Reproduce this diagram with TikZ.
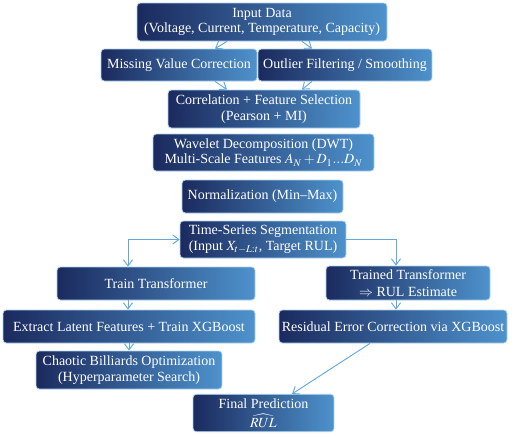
\documentclass[tikz,border=0pt]{standalone}
\usepackage{mathptmx}
\usepackage{fontspec}
\setmainfont{Liberation Serif}
\usepackage{tikz}
\usetikzlibrary{shapes,arrows.meta,positioning,calc}

\definecolor{boxdark}{HTML}{1B2A5E}
\definecolor{boxlight}{HTML}{4E92CC}
\definecolor{boxedge}{HTML}{A9D2EE}
\definecolor{linkblue}{HTML}{62AADA}

\begin{document}
\begin{tikzpicture}[
        x=0.75pt, y=-0.75pt,
        stage/.style={rectangle, rounded corners=2.5pt, draw=boxedge, line width=0.6pt,
            left color=boxdark, right color=boxlight, text=white, align=center,
            inner sep=1pt, font=\fontsize{10.5}{11.6}\selectfont},
        flow/.style={draw=linkblue, line width=0.7pt, -{Straight Barb[length=1.6mm,width=2.4mm]}}
    ]
    \useasboundingbox (0,0) rectangle (520,436);

    % Stages
    \node[stage, minimum width=187.5pt, minimum height=28.5pt] (input) at (262,22)
        {Input Data\\(Voltage, Current, Temperature, Capacity)};
    \node[stage, minimum width=117pt, minimum height=24pt] (missing) at (179,65)
        {Missing Value Correction};
    \node[stage, minimum width=130.5pt, minimum height=24pt] (outlier) at (345,65)
        {Outlier Filtering / Smoothing};
    \node[stage, minimum width=144pt, minimum height=28.5pt] (corr) at (264,109)
        {Correlation + Feature Selection\\(Pearson + MI)};
    \node[stage, minimum width=165.75pt, minimum height=27.75pt] (wavelet) at (263.5,152.5)
        {Wavelet Decomposition (DWT)\\Multi-Scale Features $A_N + D_1 ... D_N$};
    \node[stage, minimum width=120.75pt, minimum height=24.75pt] (norm) at (262.5,196.5)
        {Normalization (Min--Max)};
    \node[stage, minimum width=124.5pt, minimum height=27.75pt] (segment) at (263,239.5)
        {Time-Series Segmentation\\(Input $X_{t-L:t}$, Target RUL)};
    \node[stage, minimum width=148.5pt, minimum height=24.75pt] (train) at (156,283.5)
        {Train Transformer};
    \node[stage, minimum width=123pt, minimum height=25.5pt] (trained) at (408,283)
        {Trained Transformer\\[1pt]$\Rightarrow$ RUL Estimate};
    \node[stage, minimum width=189pt, minimum height=24.75pt] (extract) at (129,326.5)
        {Extract Latent Features + Train XGBoost};
    \node[stage, minimum width=171pt, minimum height=24.75pt] (residual) at (393,326.5)
        {Residual Error Correction via XGBoost};
    \node[stage, minimum width=139.5pt, minimum height=28.5pt] (chaotic) at (129,370)
        {Chaotic Billiards Optimization\\(Hyperparameter Search)};
    \node[stage, minimum width=105.75pt, minimum height=28pt] (final) at (263.5,413)
        {Final Prediction\\[3pt]$\widehat{RUL}$};

    % Branch columns
    \coordinate (leftcol) at (128,0);
    \coordinate (rightcol) at (396,0);

    % Links
    \draw[flow] ($(input.south)+(-35,0)$) -- ($(missing.north)+(36,0)$);
    \draw[flow] ($(input.south)+(40,0)$) -- ($(outlier.north)+(-33,0)$);
    \draw[flow] ($(missing.south)+(36,0)$) -- ($(corr.north)+(-37,0)$);
    \draw[flow] ($(outlier.south)+(-33,0)$) -- ($(corr.north)+(38,0)$);
    \draw[flow, {Straight Barb[length=1.6mm,width=2.4mm]}-{Straight Barb[length=1.6mm,width=2.4mm]}]
        (segment.west) -| (train.north -| leftcol);
    \draw[flow] (segment.east) -| (trained.north -| rightcol);
    \draw[flow] (train.south -| leftcol) -- (extract.north -| leftcol);
    \draw[flow] (trained.south -| rightcol) -- (residual.north -| rightcol);
    \draw[flow] (extract) -- (chaotic);
    \draw[flow] ($(residual.south)+(-23,0)$) -- ($(final.north)+(28.5,0)$);

\end{tikzpicture}
\end{document}
